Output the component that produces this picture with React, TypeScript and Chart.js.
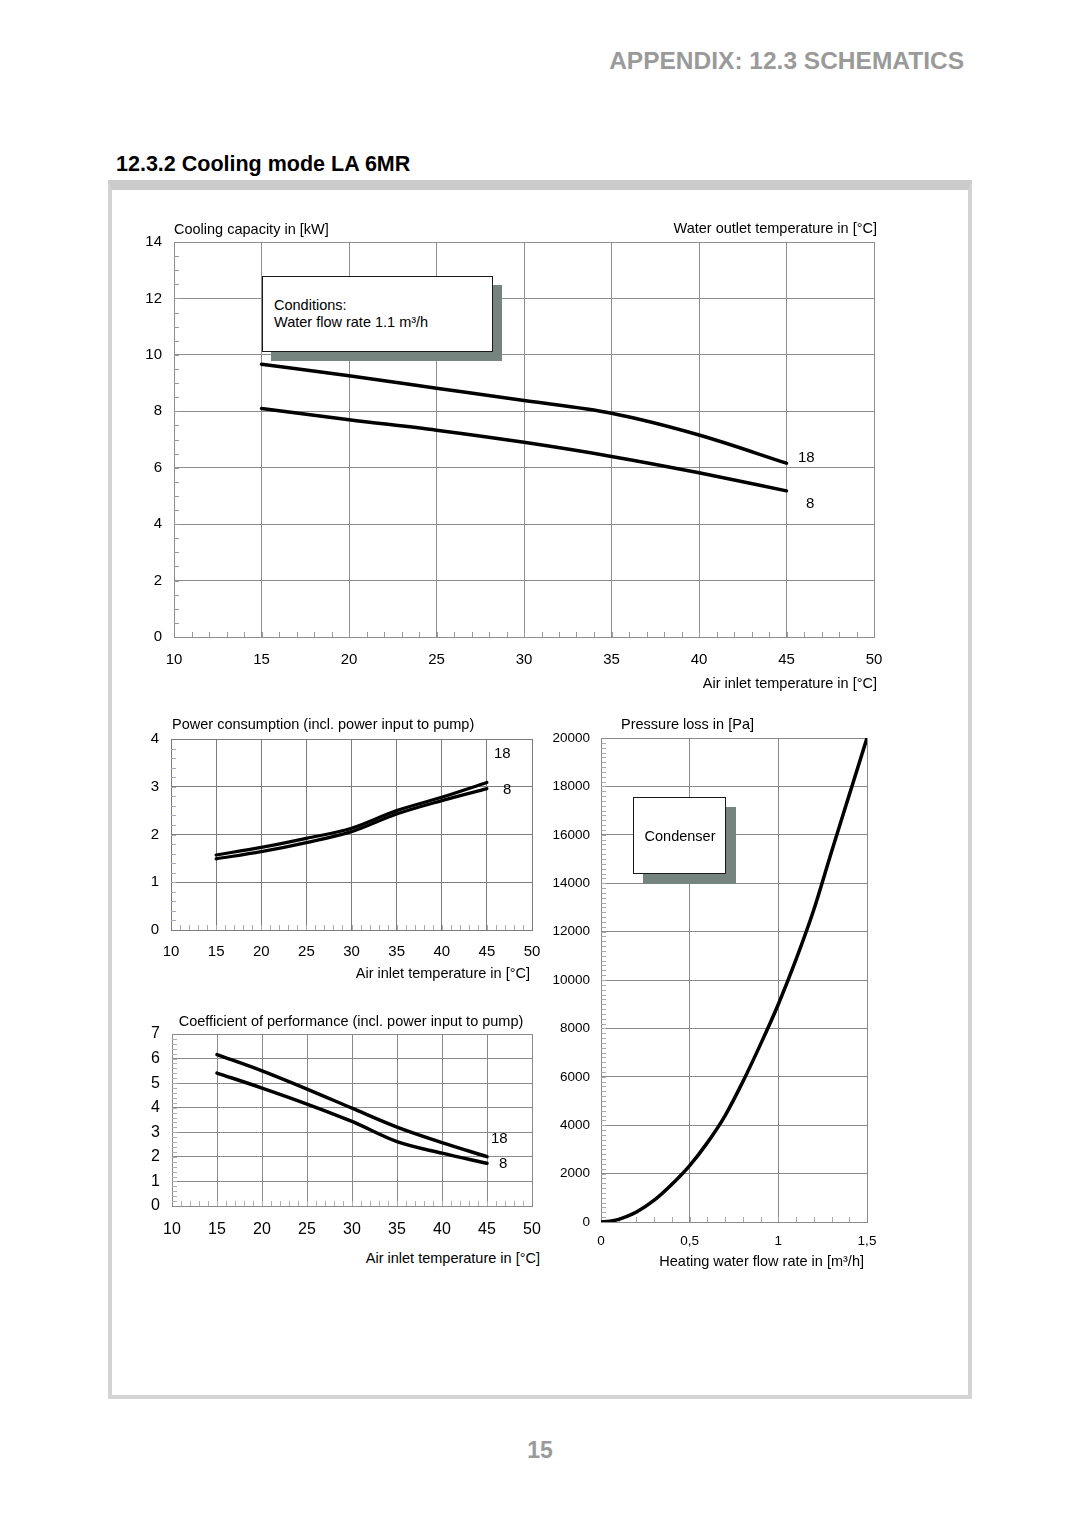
import React, { useEffect, useRef } from 'react';
import { Chart, registerables } from 'chart.js';

Chart.register(...registerables);

const FONT = '"Liberation Sans", Arial, Helvetica, sans-serif';

// ---------- Data ----------
// Chart 1: cooling capacity [kW] vs air inlet temperature [°C]
const airTemps = [15, 20, 25, 30, 35, 40, 45];
const capacity18 = [9.67, 9.26, 8.82, 8.38, 7.93, 7.16, 6.16];
const capacity8 = [8.10, 7.70, 7.33, 6.90, 6.40, 5.82, 5.18];

// Chart 2: power consumption [kW]
const power18 = [1.57, 1.73, 1.92, 2.13, 2.50, 2.78, 3.09];
const power8 = [1.49, 1.64, 1.83, 2.06, 2.43, 2.71, 2.96];

// Chart 3: coefficient of performance
const cop18 = [6.16, 5.5, 4.76, 3.98, 3.21, 2.58, 2.01];
const cop8 = [5.41, 4.8, 4.15, 3.44, 2.62, 2.15, 1.74];

// Chart 4: pressure loss [Pa] vs heating water flow rate [m³/h]
const flowRates = [0, 0.05, 0.1, 0.15, 0.2, 0.3, 0.4, 0.5, 0.6, 0.7, 0.8, 0.9, 1.0, 1.1, 1.2, 1.3, 1.4, 1.5];
const pressureLoss = [0, 30, 110, 240, 410, 900, 1560, 2330, 3280, 4400, 5800, 7350, 9000, 10850, 12900, 15300, 17650, 20000];
const flowTickLabels = ['0', '0,5', '1', '1,5'];

const seriesLabels = ['18', '8'];

// ---------- Helpers ----------
type Box = { left: number; top: number; width: number; height: number };

interface AxisSpec {
  min: number;
  max: number;
  step: number;
  minor: number;
  labels?: string[];
}

interface PlotSpec {
  box: Box;
  x: AxisSpec;
  y: AxisSpec;
  yAxisW: number;
  xAxisH: number;
  yPad: number;
  xPad: number;
  fontSize: number;
  gridColor: string;
  minorColor: string;
  lineWidth: number;
  series: { xs: number[]; ys: number[] }[];
}

const PAD_TOP = 34;
const PAD_RIGHT = 36;
const TXT = 14.5;

function minorTicksPlugin(xStep: number, yStep: number, color: string) {
  return {
    id: 'minorTicks',
    beforeDatasetsDraw(chart: any) {
      const { ctx, chartArea, scales } = chart;
      const xs = scales.x;
      const ys = scales.y;
      ctx.save();
      ctx.strokeStyle = color;
      ctx.lineWidth = 1;
      ctx.beginPath();
      const nx = Math.round((xs.max - xs.min) / xStep);
      for (let i = 1; i < nx; i++) {
        const px = Math.round(xs.getPixelForValue(xs.min + i * xStep)) + 0.5;
        ctx.moveTo(px, chartArea.bottom);
        ctx.lineTo(px, chartArea.bottom - 5);
      }
      const ny = Math.round((ys.max - ys.min) / yStep);
      for (let i = 1; i < ny; i++) {
        const py = Math.round(ys.getPixelForValue(ys.min + i * yStep)) + 0.5;
        ctx.moveTo(chartArea.left, py);
        ctx.lineTo(chartArea.left + 5, py);
      }
      ctx.stroke();
      ctx.restore();
    },
  };
}

function PlotChart({ spec }: { spec: PlotSpec }) {
  const ref = useRef<HTMLCanvasElement>(null);
  const cw = spec.box.width + spec.yAxisW + PAD_RIGHT;
  const ch = spec.box.height + PAD_TOP + spec.xAxisH;
  useEffect(() => {
    const font = { family: FONT, size: spec.fontSize };
    const chart = new Chart(ref.current as HTMLCanvasElement, {
      type: 'line',
      data: {
        datasets: spec.series.map((s, k) => ({
          label: seriesLabels[k],
          data: s.xs.map((x, i) => ({ x, y: s.ys[i] })),
          borderColor: '#000',
          borderWidth: spec.lineWidth,
          pointRadius: 0,
          fill: false,
          cubicInterpolationMode: 'monotone' as const,
          borderCapStyle: 'round' as const,
        })),
      },
      options: {
        responsive: false,
        animation: false,
        devicePixelRatio: 1,
        layout: { padding: { left: 0, top: PAD_TOP, right: PAD_RIGHT, bottom: 0 } },
        plugins: { legend: { display: false }, tooltip: { enabled: false } },
        scales: {
          x: {
            type: 'linear',
            min: spec.x.min,
            max: spec.x.max,
            ticks: {
              stepSize: spec.x.step,
              autoSkip: false,
              maxRotation: 0,
              padding: spec.xPad,
              color: '#000',
              font,
              callback: (v: any, i: number) => (spec.x.labels ? spec.x.labels[i] : String(v)),
            },
            grid: { color: spec.gridColor, lineWidth: 1, drawTicks: false },
            border: { color: spec.gridColor, width: 1 },
            afterFit: (s: any) => {
              s.height = spec.xAxisH;
            },
          },
          y: {
            type: 'linear',
            min: spec.y.min,
            max: spec.y.max,
            ticks: {
              stepSize: spec.y.step,
              autoSkip: false,
              padding: spec.yPad,
              color: '#000',
              font,
              callback: (v: any) => String(v),
            },
            grid: { color: spec.gridColor, lineWidth: 1, drawTicks: false },
            border: { color: spec.gridColor, width: 1 },
            afterFit: (s: any) => {
              s.width = spec.yAxisW;
            },
          },
        },
      },
      plugins: [minorTicksPlugin(spec.x.minor, spec.y.minor, spec.minorColor)],
    } as any);
    return () => chart.destroy();
  }, []);
  return (
    <canvas
      ref={ref}
      width={cw}
      height={ch}
      style={{
        position: 'absolute',
        left: spec.box.left - spec.yAxisW,
        top: spec.box.top - PAD_TOP,
        width: cw,
        height: ch,
      }}
    />
  );
}

function Txt({
  x,
  base,
  size,
  align = 'left',
  bold = false,
  color = '#000',
  children,
}: {
  x: number;
  base: number;
  size: number;
  align?: 'left' | 'right' | 'center';
  bold?: boolean;
  color?: string;
  children: React.ReactNode;
}) {
  const style: React.CSSProperties = {
    position: 'absolute',
    top: base - 0.8465 * size,
    fontSize: size,
    lineHeight: `${size}px`,
    fontFamily: FONT,
    fontWeight: bold ? 'bold' : 'normal',
    color,
    whiteSpace: 'nowrap',
  };
  if (align === 'left') style.left = x;
  else if (align === 'right') style.right = 1080 - x;
  else {
    style.left = x - 300;
    style.width = 600;
    style.textAlign = 'center';
  }
  return <div style={style}>{children}</div>;
}

function ShadowBox({ x1, y1, x2, y2, off }: { x1: number; y1: number; x2: number; y2: number; off: number }) {
  return (
    <>
      <div
        style={{
          position: 'absolute',
          left: x1 + off,
          top: y1 + off,
          width: x2 - x1,
          height: y2 - y1,
          background: '#768480',
        }}
      />
      <div
        style={{
          position: 'absolute',
          left: x1,
          top: y1,
          width: x2 - x1,
          height: y2 - y1,
          boxSizing: 'border-box',
          background: '#fff',
          border: '1.5px solid #1a1a1a',
        }}
      />
    </>
  );
}

// ---------- Specs ----------
const capacitySpec: PlotSpec = {
  box: { left: 174, top: 242, width: 700, height: 395 },
  x: { min: 10, max: 50, step: 5, minor: 1 },
  y: { min: 0, max: 14, step: 2, minor: 0.5 },
  yAxisW: 40,
  xAxisH: 40,
  yPad: 12,
  xPad: 14,
  fontSize: 15,
  gridColor: '#8e8e8e',
  minorColor: '#9a9a9a',
  lineWidth: 3.5,
  series: [
    { xs: airTemps, ys: capacity18 },
    { xs: airTemps, ys: capacity8 },
  ],
};

const powerSpec: PlotSpec = {
  box: { left: 171, top: 739, width: 361, height: 191 },
  x: { min: 10, max: 50, step: 5, minor: 1 },
  y: { min: 0, max: 4, step: 1, minor: 0.2 },
  yAxisW: 40,
  xAxisH: 40,
  yPad: 12,
  xPad: 13,
  fontSize: 15,
  gridColor: '#7c7c7c',
  minorColor: '#a8a8c8',
  lineWidth: 3.2,
  series: [
    { xs: airTemps, ys: power18 },
    { xs: airTemps, ys: power8 },
  ],
};

const copSpec: PlotSpec = {
  box: { left: 172, top: 1034, width: 360, height: 172 },
  x: { min: 10, max: 50, step: 5, minor: 1 },
  y: { min: 0, max: 7, step: 1, minor: 0.2 },
  yAxisW: 40,
  xAxisH: 40,
  yPad: 12,
  xPad: 14,
  fontSize: 16,
  gridColor: '#8a8a8a',
  minorColor: '#b0b0b0',
  lineWidth: 3.5,
  series: [
    { xs: airTemps, ys: cop18 },
    { xs: airTemps, ys: cop8 },
  ],
};

const pressureSpec: PlotSpec = {
  box: { left: 601, top: 738, width: 266, height: 484 },
  x: { min: 0, max: 1.5, step: 0.5, minor: 0.1, labels: flowTickLabels },
  y: { min: 0, max: 20000, step: 2000, minor: 200 },
  yAxisW: 52,
  xAxisH: 40,
  yPad: 11,
  xPad: 11,
  fontSize: 13.5,
  gridColor: '#8a8a8a',
  minorColor: '#a8a8a8',
  lineWidth: 3.5,
  series: [{ xs: flowRates, ys: pressureLoss }],
};

export default function App() {
  return (
    <div
      style={{
        position: 'absolute',
        left: 0,
        top: 0,
        width: 1080,
        height: 1528,
        overflow: 'hidden',
        background: '#fff',
        fontFamily: FONT,
      }}
    >
      {/* header */}
      <Txt x={964} base={70} size={24.5} align="right" bold color="#9a9a9a">
        APPENDIX: 12.3 SCHEMATICS
      </Txt>
      <Txt x={116} base={172} size={21.5} bold>
        12.3.2 Cooling mode LA 6MR
      </Txt>

      {/* frame */}
      <div
        style={{
          position: 'absolute',
          left: 108,
          top: 180,
          width: 864,
          height: 1219,
          boxSizing: 'border-box',
          borderLeft: '4px solid #d4d4d4',
          borderRight: '4px solid #d4d4d4',
          borderBottom: '4px solid #d4d4d4',
          borderTop: '10px solid #cbcbcb',
        }}
      />

      {/* Chart 1: cooling capacity */}
      <PlotChart spec={capacitySpec} />
      <Txt x={174} base={234} size={TXT}>Cooling capacity in [kW]</Txt>
      <Txt x={877} base={233} size={TXT} align="right">Water outlet temperature in [°C]</Txt>
      <Txt x={877} base={688} size={TXT} align="right">Air inlet temperature in [°C]</Txt>
      <Txt x={798} base={462} size={15}>{seriesLabels[0]}</Txt>
      <Txt x={806} base={508} size={15}>{seriesLabels[1]}</Txt>
      <ShadowBox x1={262} y1={276} x2={493} y2={352} off={9} />
      <Txt x={274} base={310} size={TXT}>Conditions:</Txt>
      <Txt x={274} base={327} size={TXT}>Water flow rate 1.1 m³/h</Txt>

      {/* Chart 2: power consumption */}
      <PlotChart spec={powerSpec} />
      <Txt x={172} base={729} size={TXT}>Power consumption (incl. power input to pump)</Txt>
      <Txt x={494} base={758} size={15}>{seriesLabels[0]}</Txt>
      <Txt x={503} base={794} size={15}>{seriesLabels[1]}</Txt>
      <Txt x={530} base={978} size={TXT} align="right">Air inlet temperature in [°C]</Txt>

      {/* Chart 3: COP */}
      <PlotChart spec={copSpec} />
      <Txt x={351} base={1026} size={TXT} align="center">Coefficient of performance (incl. power input to pump)</Txt>
      <Txt x={491} base={1143} size={15}>{seriesLabels[0]}</Txt>
      <Txt x={499} base={1168} size={15}>{seriesLabels[1]}</Txt>
      <Txt x={540} base={1263} size={TXT} align="right">Air inlet temperature in [°C]</Txt>

      {/* Chart 4: pressure loss */}
      <PlotChart spec={pressureSpec} />
      <Txt x={621} base={729} size={TXT}>Pressure loss in [Pa]</Txt>
      <ShadowBox x1={633} y1={797} x2={726} y2={874} off={10} />
      <Txt x={680} base={841} size={TXT} align="center">Condenser</Txt>
      <Txt x={864} base={1266} size={TXT} align="right">Heating water flow rate in [m³/h]</Txt>

      {/* page number */}
      <Txt x={540} base={1458} size={23} align="center" bold color="#9a9a9a">
        15
      </Txt>
    </div>
  );
}
